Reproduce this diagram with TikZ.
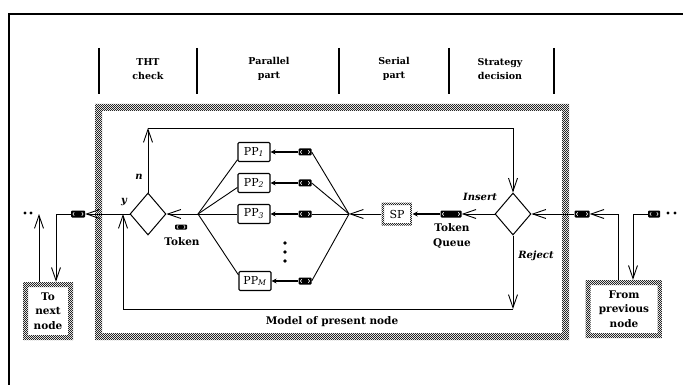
\documentclass[tikz,border=0pt]{standalone}
\usepackage{fontspec}
\setmainfont{DejaVu Serif}
\usetikzlibrary{arrows.meta,shapes.geometric,patterns}
\pgfdeclarepatternformonly{checker}{\pgfqpoint{0pt}{0pt}}{\pgfqpoint{2.4pt}{2.4pt}}{\pgfqpoint{2.4pt}{2.4pt}}{%
  \pgfpathrectangle{\pgfqpoint{0pt}{0pt}}{\pgfqpoint{1pt}{1pt}}%
  \pgfpathrectangle{\pgfqpoint{1.2pt}{1.2pt}}{\pgfqpoint{1pt}{1pt}}%
  \pgfusepath{fill}}
\begin{document}
\begin{tikzpicture}[x=1pt,y=-1pt,
  arr/.style={line width=0.9pt,-{Straight Barb[length=13pt,width=9pt,line width=0.9pt]}},
  smarr/.style={line width=1.3pt,-{Stealth[length=5pt,width=5pt]}},
  ln/.style={line width=0.9pt},
  dia/.style={diamond,draw,line width=1pt,inner sep=0pt,minimum width=36pt,minimum height=42pt},
  ppbox/.style={draw,line width=1.1pt,rounded corners=1.2pt,minimum width=32pt,minimum height=19pt,inner sep=0pt,font=\fontsize{11}{11}\selectfont},
  chan/.style={fill=black,rounded corners=1pt,minimum width=#1,minimum height=7pt,inner sep=0pt,
    path picture={\draw[white,line width=0.6pt]
      ([xshift=1.8pt]path picture bounding box.west) -- ++(1.4pt,1.6pt)
      ([xshift=1.8pt]path picture bounding box.west) -- ++(1.4pt,-1.6pt)
      ([xshift=-1.8pt]path picture bounding box.east) -- ++(-1.4pt,1.6pt)
      ([xshift=-1.8pt]path picture bounding box.east) -- ++(-1.4pt,-1.6pt);}},
  chan/.default=13pt,
  band/.style={pattern=checker,pattern color=black!85,even odd rule},
  stip/.style={fill=white,path picture={\fill[band]
      (path picture bounding box.north west) rectangle (path picture bounding box.south east)
      ([shift={(#1,-#1)}]path picture bounding box.north west) rectangle ([shift={(-#1,#1)}]path picture bounding box.south east);}},
  hdr/.style={font=\bfseries\fontsize{9.5}{13.5}\selectfont,align=center},
  lbl/.style={font=\bfseries\fontsize{10.5}{14.5}\selectfont,align=center},
  ital/.style={font=\bfseries\itshape\fontsize{10}{10}\selectfont,inner sep=0pt}
]
\useasboundingbox (0,0) rectangle (683,385);
% page frame
\draw[line width=2.5pt] (683,14) -- (9,14) -- (9,385);
% header
\foreach \xx in {99,197,339,449,554} \draw[line width=1.2pt] (\xx,48) -- (\xx,94);
\node[hdr] (h1) at (148,69) {THT\\check};
\node[hdr] (h2) at (269,69) {Parallel\\part};
\node[hdr] (h3) at (394,69) {Serial\\part};
\node[hdr] (h4) at (500,69) {Strategy\\decision};
% stippled model frame
\fill[band] (95,104) rectangle (569,340) (102,111) rectangle (562,333);
% nodes
\node[dia] (D1) at (148,214) {};
\node[dia] (D2) at (513,214) {};
\node[ppbox] (PP1) at (254,152) {PP\textsubscript{\itshape 1}};
\node[ppbox] (PP2) at (254,183) {PP\textsubscript{\itshape 2}};
\node[ppbox] (PP3) at (254,214) {PP\textsubscript{\itshape 3}};
\node[ppbox] (PPM) at (255,281) {PP\textsubscript{\itshape M}};
\node[chan] (C1) at (305,152) {};
\node[chan] (C2) at (305,183) {};
\node[chan] (C3) at (305,214) {};
\node[chan] (CM) at (305,281) {};
\node[stip=2.5pt,minimum width=31pt,minimum height=23pt,inner sep=0pt,font=\fontsize{11}{11}\selectfont] (SP) at (397,214) {SP};
\node[chan=21pt] (CQ) at (451,214) {};
\node[chan=15pt] (CR1) at (582,214) {};
\node[chan=12pt] (CR2) at (654,214) {};
\node[chan=14pt] (CL) at (78,214) {};
\node[chan=12pt,minimum height=5pt] (Ctok) at (181,227) {};
\node[stip=5pt,lbl,minimum width=50pt,minimum height=58pt,inner sep=0pt] (TN) at (48,311) {To\\next\\node};
\node[stip=5pt,lbl,minimum width=77pt,minimum height=58pt,inner sep=0pt] (FP) at (624,309) {From\\previous\\node};
% coordinates
\coordinate (tl) at (148,128); \coordinate (tr) at (513,128);
\coordinate (bl) at (123,309); \coordinate (br) at (513,309);
\coordinate (jl) at (123,214);
\coordinate (fanL) at (198,214); \coordinate (fanR) at (349,214);
\coordinate (lUp) at (39,214); \coordinate (pL) at (56,214);
\coordinate (pR1) at (618,214); \coordinate (pR2) at (633,214);
% connectors
\draw[arr] (D1.north) -- (tl);
\draw[arr] (tl) -- (tr) -- (D2.north);
\draw[arr] (D1.west) -- (CL.east);
\draw[arr] (CL.west) -- (pL) -- (pL |- TN.north);
\draw[arr] (lUp |- TN.north) -- (lUp);
\draw[arr] (fanL) -- (D1.east);
\draw[ln] (fanL) -- (PP1.205);
\draw[ln] (fanL) -- (PP2.195);
\draw[ln] (fanL) -- (PP3.west);
\draw[ln] (fanL) -- (PPM.160);
\draw[smarr] (C1.west) -- (PP1.east);
\draw[smarr] (C2.west) -- (PP2.east);
\draw[smarr] (C3.west) -- (PP3.east);
\draw[smarr] (CM.west) -- (PPM.east);
\draw[ln] (C1.east) -- (fanR);
\draw[ln] (C2.east) -- (fanR);
\draw[ln] (C3.east) -- (fanR);
\draw[ln] (CM.east) -- (fanR);
\draw[arr] (SP.west) -- (fanR);
\draw[smarr] (CQ.west) -- (SP.east);
\draw[arr] (D2.west) -- (CQ.east);
\draw[arr] (CR1.west) -- (D2.east);
\draw[arr] (pR1 |- FP.north) -- (pR1) -- (CR1.east);
\draw[arr] (CR2.west) -- (pR2) -- (pR2 |- FP.north);
\draw[arr] (D2.south) -- (br);
\draw[arr] (br) -- (bl) -- (jl);
% dots
\fill (25,213) circle (1.6pt) (31,213) circle (1.6pt);
\fill (668,213) circle (1.6pt) (675,213) circle (1.6pt);
\fill (285,243) circle (1.8pt) (285,252) circle (1.8pt) (285,261) circle (1.8pt);
% labels
\node[ital] (ln) at (139,177) {n};
\node[ital] (ly) at (124,202) {y};
\node[ital] (lins) at (480,197) {Insert};
\node[ital] (lrej) at (536,256) {Reject};
\node[lbl] (ltok) at (182,242) {Token};
\node[lbl] (ltq) at (452,236) {Token\\Queue};
\node[lbl] (lmod) at (332,322) {Model of present node};
\end{tikzpicture}
\end{document}
